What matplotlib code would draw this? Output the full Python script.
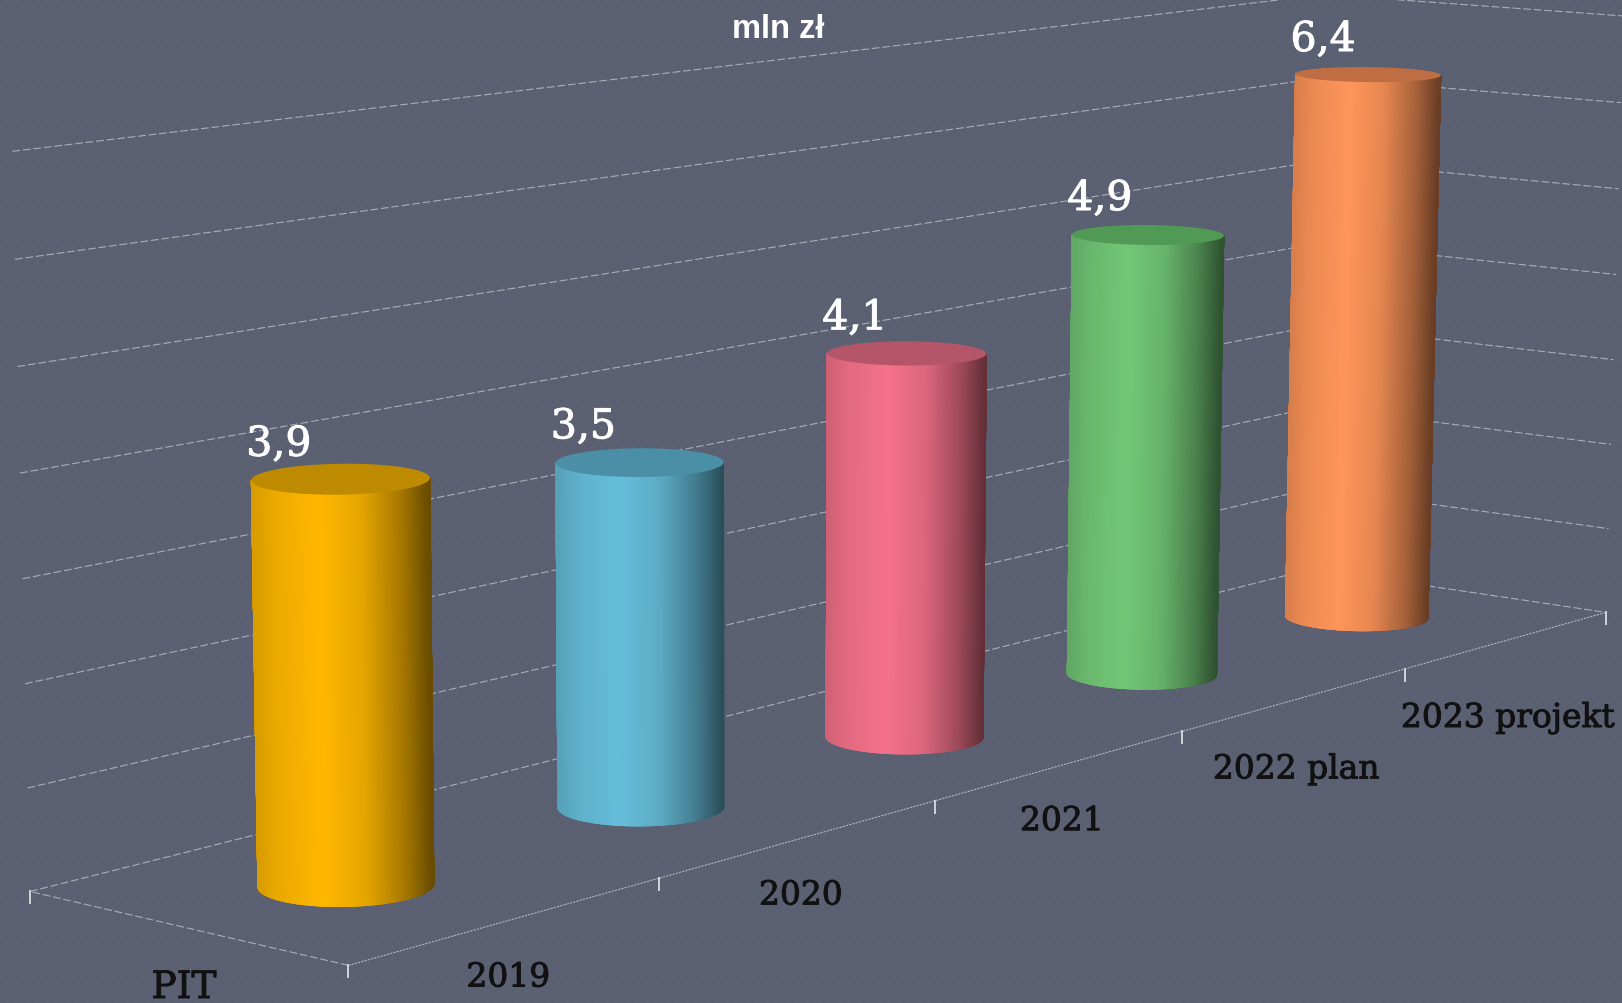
"""PIT revenue 2019-2023 as 3D cylinders, drawn through a fitted camera."""

import matplotlib

matplotlib.use("Agg")
import matplotlib.patheffects as pe
import matplotlib.pyplot as plt
import numpy as np
from matplotlib.collections import PolyCollection
from matplotlib.colors import to_rgb

WIDTH, HEIGHT = 1622, 1003

CATEGORIES = ["2019", "2020", "2021", "2022 plan", "2023 projekt"]
# unrounded estimates read off the cylinder heights, labels carry the rounded ones
VALUES = [3.9, 3.5, 4.1, 4.92, 6.35]
VALUE_LABELS = ["3,9", "3,5", "4,1", "4,9", "6,4"]
GRID_VALUES = [0, 1, 2, 3, 4, 5, 6, 7]

BODY_COLORS = ["#FFB800", "#66BEDB", "#F5728A", "#72C776", "#FF9559"]
TOP_COLORS = ["#BE8A00", "#4A8FA6", "#B5556A", "#509A55", "#BE6E42"]
BG = "#5B6172"
GRID = "#C9CBD2"

# (category pos, depth, value) -> picture pixel, used to fit the camera
CAM_WORLD = [
    (0, 0, 0), (1, 0, 0), (2, 0, 0), (3, 0, 0), (4, 0, 0), (5, 0, 0),
    (0, 1, 0), (5, 1, 0), (0, 1, 7), (5, 1, 7), (5, 0, 7),
]
CAM_PIXEL = [
    (348, 964), (659, 879), (935, 802), (1182, 732), (1405, 669), (1606, 612),
    (30, 891), (1311, 569), (12, 152), (1325, -5), (1622, 16),
]

RADIUS = 0.198
CENTER_DEPTH = 0.5
LABEL_GAP = [8, 10, 12, 15, 16]
CAT_DY = [57, 57, 56, 70, 78]


def fit_camera():
    rows, rhs = [], []
    for (u, d, v), (x, y) in zip(CAM_WORLD, CAM_PIXEL):
        rows.append([1, u, d, v, 0, 0, 0, 0, -x * u, -x * d, -x * v])
        rows.append([0, 0, 0, 0, 1, u, d, v, -y * u, -y * d, -y * v])
        rhs += [x, y]
    return np.linalg.lstsq(np.array(rows, float), np.array(rhs, float), rcond=None)[0]


CAM = fit_camera()


def project(u, d, v):
    u, d, v = np.asarray(u, float), np.asarray(d, float), np.asarray(v, float)
    w = 1 + CAM[8] * u + CAM[9] * d + CAM[10] * v
    x = (CAM[0] + CAM[1] * u + CAM[2] * d + CAM[3] * v) / w
    y = (CAM[4] + CAM[5] * u + CAM[6] * d + CAM[7] * v) / w
    return x, y


# brightness across the cylinder, smoothed so the knots don't show as bands
_grid = np.linspace(0, 1, 401)
_raw = np.interp(_grid, [0, 0.12, 0.38, 0.62, 0.85, 1], [0.84, 0.92, 1.0, 0.90, 0.64, 0.40])
_kernel = np.hanning(41) / np.hanning(41).sum()
_smooth = np.convolve(np.pad(_raw, 20, mode="edge"), _kernel, mode="valid")


def shade(color, t):
    """Horizontal cylinder shading, t runs 0..1 from left edge to right edge."""
    levels = np.interp(t, _grid, _smooth)
    return np.clip(np.outer(levels, to_rgb(color)), 0, 1)


def draw_cylinder(ax, k, value, body, top):
    steps = 1440
    theta = np.linspace(0, 2 * np.pi, steps + 1)[:-1]
    cu = k + 0.5 + RADIUS * np.cos(theta)
    cd = CENTER_DEPTH + RADIUS * np.sin(theta)
    xb, yb = project(cu, cd, 0 * cu)
    xt, yt = project(cu, cd, value + 0 * cu)

    # front half of the side, walking between the silhouette points
    il, ir = int(np.argmin(xb)), int(np.argmax(xb))
    idx = np.arange(il, il + steps) % steps
    front = idx[: int(np.where(idx == ir)[0][0]) + 1]
    if yb[front].mean() < yb.mean():
        idx = np.arange(il, il - steps, -1) % steps
        front = idx[: int(np.where(idx == ir)[0][0]) + 1]

    quads, mids = [], []
    for a, b in zip(front[:-1], front[1:]):
        quads.append([(xt[a], yt[a]), (xt[b], yt[b]), (xb[b], yb[b]), (xb[a], yb[a])])
        mids.append((0.5 * (xb[a] + xb[b]) - xb[il]) / (xb[ir] - xb[il]))
    colors = shade(body, np.array(mids))
    ax.add_collection(PolyCollection(quads, facecolors=colors, edgecolors=colors,
                                     linewidths=0.6, zorder=3))
    ax.fill(xt, yt, color=top, lw=0, zorder=4)
    return xt.min(), yt.min()


def main():
    fig = plt.figure(figsize=((WIDTH + 0.4) / 100, (HEIGHT + 0.4) / 100), dpi=100)
    ax = fig.add_axes([0, 0, 1, 1])
    ax.set_xlim(0, WIDTH)
    ax.set_ylim(HEIGHT, 0)
    ax.axis("off")

    # faint woven background
    yy, xx = np.indices((HEIGHT, WIDTH))
    weave = ((xx // 5 + yy // 5) % 2) * 2.0 - 1.0
    dots = ((xx + yy) % 2) * 1.5 - 0.75
    bg = np.array(to_rgb(BG)) * 255
    tex = np.clip(bg[None, None, :] + (weave + dots)[..., None], 0, 255) / 255
    ax.imshow(tex, extent=(0, WIDTH, HEIGHT, 0), aspect="auto", zorder=0, interpolation="nearest")

    dash = dict(color=GRID, lw=0.8, ls=(0, (7, 2.5)), alpha=0.72, zorder=1)
    for v in GRID_VALUES:
        x, y = project([0, 5], [1, 1], [v, v])
        ax.plot(x, y, **dash)
        x, y = project([5, 5], [1, 0], [v, v])
        ax.plot(x, y, **dash)
    x, y = project([0, 0], [0, 1], [0, 0])
    ax.plot(x, y, **dash)
    x, y = project([0, 5], [0, 0], [0, 0])
    ax.plot(x, y, color=GRID, lw=0.8, ls=(0, (2, 1)), alpha=0.8, zorder=1)

    # ticks hang straight down from the front axis
    for u, d in [(0, 1)] + [(i, 0) for i in range(len(CATEGORIES) + 1)]:
        x, y = project(u, d, 0)
        ax.plot([x, x], [y, y + 12], color="#D4D5DA", lw=1.4, zorder=1)

    white_stroke = [pe.withStroke(linewidth=0.7, foreground="white")]
    dark_stroke = [pe.withStroke(linewidth=0.7, foreground="#111111")]

    for k, (value, label) in enumerate(zip(VALUES, VALUE_LABELS)):
        left, top = draw_cylinder(ax, k, value, BODY_COLORS[k], TOP_COLORS[k])
        ax.text(left - 5, top - LABEL_GAP[k], label, color="white", fontsize=29.5,
                family="DejaVu Serif", ha="left", va="baseline", zorder=5,
                path_effects=white_stroke)
        x, y = project(k + 0.5, 0, 0)
        ax.text(x, y + CAT_DY[k], CATEGORIES[k], color="#111111", fontsize=23.7,
                family="DejaVu Serif", ha="center", va="center", zorder=5,
                path_effects=dark_stroke)

    ax.text(184, 998, "PIT", color="#111111", fontsize=27, family="DejaVu Serif",
            ha="center", va="baseline", zorder=5, path_effects=dark_stroke)
    ax.text(778, 29, "mln zł", color="white", fontsize=23.5, family="Liberation Sans",
            fontweight="bold", ha="center", va="center", zorder=5)

    fig.savefig("out.png", dpi=100)


if __name__ == "__main__":
    main()
